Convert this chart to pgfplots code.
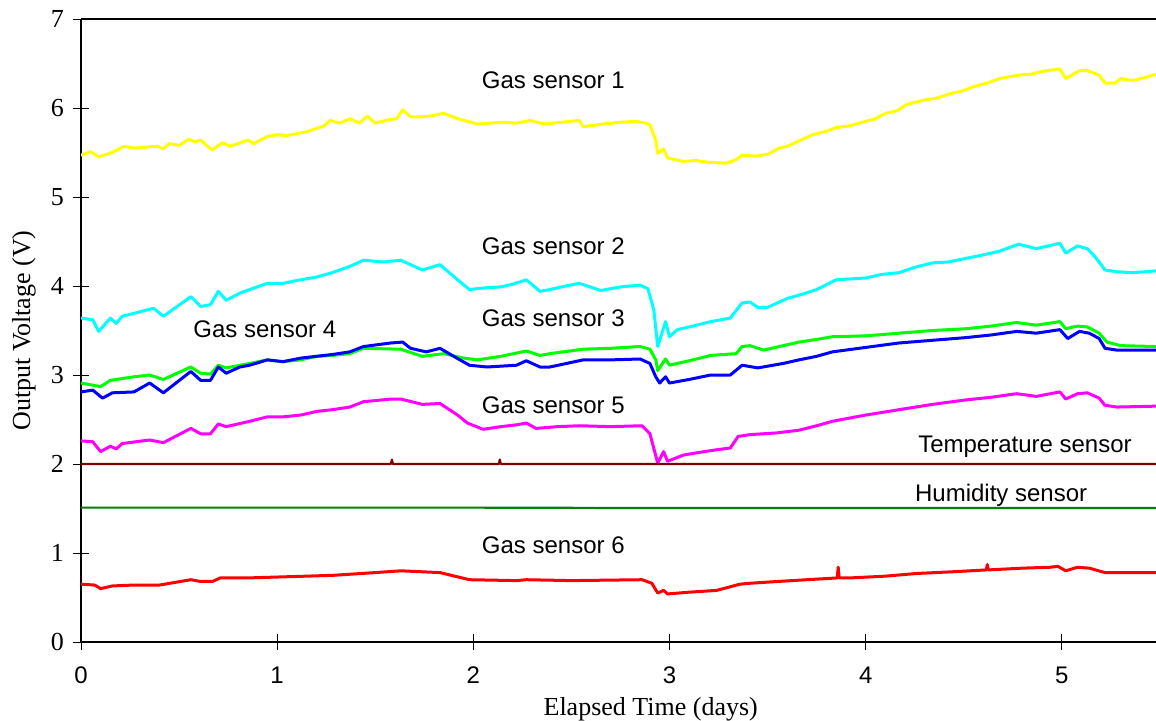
\documentclass[border=0pt]{standalone}
\usepackage{fontspec}
\setmainfont{Liberation Serif}
\setsansfont{Liberation Sans}
\usepackage{pgfplots}
\pgfplotsset{compat=1.18}
\definecolor{sOne}{RGB}{255,255,0}
\definecolor{sTwo}{RGB}{0,255,255}
\definecolor{sThree}{RGB}{0,255,0}
\definecolor{sFour}{RGB}{0,0,255}
\definecolor{sFive}{RGB}{255,0,255}
\definecolor{sSix}{RGB}{255,0,0}
\definecolor{temp}{RGB}{128,0,0}
\definecolor{hum}{RGB}{0,128,0}
\begin{document}
\begin{tikzpicture}
\begin{axis}[
  name=ax,
  scale only axis, width=537.5pt, height=311.5pt,
  xmin=0, xmax=5.48, ymin=0, ymax=7,
  axis x line*=box, axis y line*=left,
  xtick={0,1,2,3,4,5}, ytick={0,1,2,3,4,5,6,7},
  xtick pos=left,
  tick align=center, major tick length=8pt,
  tick style={black, line width=0.5pt},
  axis line style={black, line width=1pt},
  /pgf/number format/assume math mode=true,
  xticklabel style={font=\sffamily\fontsize{12}{12}\selectfont, yshift=-5pt},
  yticklabel style={font=\rmfamily\fontsize{13}{13}\selectfont, xshift=-1pt},
  xlabel={Elapsed Time (days)},
  ylabel={Output Voltage (V)},
  xlabel style={font=\rmfamily\fontsize{13}{13}\selectfont, at={(axis description cs:0.53,0)}, anchor=north, yshift=-24pt},
  ylabel style={font=\rmfamily\fontsize{13}{13}\selectfont, at={(axis description cs:-0.053,0.5)}, anchor=center},
  every axis plot/.append style={line join=round},
]
\addplot[sOne, line width=1.5pt] coordinates {
(0,5.47) (0.05,5.51) (0.09,5.45) (0.16,5.50) (0.22,5.57) (0.27,5.55) (0.33,5.56) (0.39,5.57) (0.42,5.54) (0.45,5.60) (0.50,5.58) (0.55,5.65) (0.58,5.62) (0.61,5.64) (0.64,5.58) (0.67,5.53) (0.72,5.61) (0.76,5.57) (0.80,5.60) (0.85,5.64) (0.88,5.60) (0.95,5.68) (1.00,5.70) (1.05,5.69) (1.12,5.72) (1.16,5.74) (1.20,5.77) (1.24,5.80) (1.27,5.86) (1.32,5.83) (1.37,5.88) (1.42,5.83) (1.46,5.91) (1.50,5.83) (1.57,5.87) (1.61,5.88) (1.64,5.98) (1.68,5.90) (1.73,5.90) (1.78,5.91) (1.85,5.94) (1.92,5.88) (1.97,5.85) (2.02,5.82) (2.08,5.83) (2.15,5.84) (2.22,5.83) (2.29,5.86) (2.36,5.82) (2.45,5.84) (2.54,5.86) (2.56,5.79) (2.66,5.82) (2.75,5.84) (2.83,5.85) (2.88,5.83) (2.90,5.81) (2.93,5.64) (2.94,5.49) (2.97,5.54) (2.99,5.44) (3.07,5.40) (3.13,5.41) (3.20,5.39) (3.29,5.38) (3.34,5.42) (3.37,5.47) (3.44,5.46) (3.50,5.48) (3.56,5.55) (3.60,5.57) (3.65,5.62) (3.73,5.70) (3.80,5.74) (3.85,5.78) (3.92,5.80) (4.00,5.85) (4.05,5.88) (4.10,5.94) (4.16,5.97) (4.21,6.04) (4.30,6.09) (4.36,6.11) (4.43,6.16) (4.49,6.19) (4.55,6.24) (4.62,6.28) (4.68,6.33) (4.78,6.37) (4.84,6.38) (4.90,6.41) (4.99,6.44) (5.02,6.33) (5.09,6.42) (5.13,6.42) (5.19,6.37) (5.22,6.28) (5.27,6.28) (5.30,6.33) (5.36,6.31) (5.42,6.34) (5.48,6.38)
};
\addplot[sTwo, line width=1.5pt] coordinates {
(0,3.64) (0.06,3.62) (0.09,3.49) (0.15,3.64) (0.18,3.58) (0.21,3.66) (0.30,3.71) (0.37,3.75) (0.42,3.66) (0.49,3.77) (0.56,3.88) (0.61,3.77) (0.66,3.79) (0.70,3.94) (0.74,3.84) (0.81,3.92) (0.86,3.96) (0.95,4.03) (1.03,4.03) (1.12,4.07) (1.20,4.10) (1.28,4.15) (1.37,4.22) (1.44,4.29) (1.54,4.27) (1.63,4.29) (1.74,4.18) (1.83,4.24) (1.92,4.07) (1.98,3.96) (2.06,3.98) (2.14,3.99) (2.20,4.02) (2.27,4.07) (2.34,3.94) (2.39,3.96) (2.47,4.00) (2.54,4.03) (2.65,3.95) (2.75,3.99) (2.85,4.01) (2.89,3.97) (2.92,3.73) (2.94,3.32) (2.98,3.60) (3.00,3.43) (3.04,3.51) (3.12,3.55) (3.21,3.60) (3.31,3.64) (3.37,3.81) (3.41,3.82) (3.45,3.76) (3.50,3.76) (3.60,3.86) (3.68,3.91) (3.75,3.96) (3.85,4.07) (4.00,4.09) (4.08,4.13) (4.17,4.15) (4.25,4.21) (4.34,4.26) (4.42,4.27) (4.51,4.31) (4.60,4.35) (4.68,4.39) (4.78,4.47) (4.87,4.42) (4.99,4.48) (5.02,4.37) (5.08,4.45) (5.13,4.42) (5.16,4.35) (5.19,4.27) (5.22,4.18) (5.28,4.16) (5.36,4.15) (5.48,4.17)
};
\addplot[sThree, line width=1.5pt] coordinates {
(0,2.91) (0.10,2.87) (0.15,2.94) (0.27,2.98) (0.35,3.00) (0.42,2.95) (0.49,3.02) (0.56,3.09) (0.61,3.02) (0.66,3.01) (0.70,3.11) (0.74,3.08) (0.86,3.13) (0.95,3.17) (1.03,3.15) (1.12,3.17) (1.20,3.21) (1.28,3.22) (1.37,3.24) (1.44,3.30) (1.63,3.29) (1.74,3.21) (1.85,3.24) (1.95,3.19) (2.02,3.17) (2.14,3.21) (2.27,3.27) (2.34,3.22) (2.39,3.24) (2.56,3.29) (2.70,3.30) (2.85,3.32) (2.90,3.29) (2.93,3.17) (2.94,3.05) (2.98,3.18) (3.00,3.11) (3.10,3.16) (3.21,3.22) (3.34,3.24) (3.37,3.32) (3.41,3.33) (3.48,3.28) (3.58,3.33) (3.66,3.37) (3.75,3.40) (3.83,3.43) (4.00,3.44) (4.17,3.47) (4.34,3.50) (4.51,3.52) (4.64,3.55) (4.77,3.59) (4.87,3.56) (4.99,3.60) (5.02,3.52) (5.08,3.55) (5.13,3.54) (5.19,3.47) (5.23,3.37) (5.30,3.33) (5.48,3.32)
};
\addplot[sFour, line width=1.5pt] coordinates {
(0,2.81) (0.06,2.83) (0.11,2.74) (0.16,2.80) (0.27,2.81) (0.35,2.91) (0.42,2.80) (0.49,2.92) (0.56,3.04) (0.61,2.94) (0.66,2.94) (0.70,3.09) (0.74,3.02) (0.81,3.09) (0.86,3.11) (0.95,3.17) (1.03,3.15) (1.12,3.19) (1.20,3.21) (1.28,3.23) (1.37,3.26) (1.44,3.32) (1.58,3.36) (1.64,3.37) (1.68,3.30) (1.76,3.26) (1.83,3.30) (1.90,3.21) (1.98,3.11) (2.07,3.09) (2.22,3.11) (2.27,3.16) (2.34,3.09) (2.39,3.09) (2.56,3.17) (2.70,3.17) (2.85,3.18) (2.90,3.13) (2.93,2.98) (2.95,2.91) (2.98,2.98) (3.00,2.91) (3.10,2.95) (3.21,3.00) (3.31,3.00) (3.37,3.11) (3.45,3.08) (3.58,3.13) (3.66,3.17) (3.75,3.21) (3.83,3.26) (4.00,3.31) (4.17,3.36) (4.34,3.39) (4.51,3.42) (4.64,3.45) (4.77,3.49) (4.87,3.47) (4.99,3.51) (5.03,3.41) (5.09,3.49) (5.14,3.47) (5.19,3.41) (5.22,3.30) (5.28,3.28) (5.48,3.28)
};
\addplot[sFive, line width=1.5pt] coordinates {
(0,2.26) (0.06,2.25) (0.10,2.14) (0.15,2.20) (0.18,2.17) (0.21,2.23) (0.35,2.27) (0.42,2.24) (0.49,2.32) (0.56,2.40) (0.61,2.34) (0.66,2.34) (0.70,2.45) (0.74,2.42) (0.86,2.48) (0.95,2.53) (1.03,2.53) (1.12,2.55) (1.20,2.59) (1.28,2.61) (1.37,2.64) (1.44,2.70) (1.58,2.73) (1.63,2.73) (1.74,2.67) (1.83,2.68) (1.92,2.55) (1.97,2.46) (2.05,2.39) (2.14,2.42) (2.22,2.44) (2.27,2.46) (2.32,2.40) (2.43,2.42) (2.54,2.43) (2.70,2.42) (2.86,2.43) (2.90,2.34) (2.94,2.01) (2.97,2.14) (2.99,2.03) (3.07,2.10) (3.15,2.13) (3.24,2.16) (3.31,2.18) (3.35,2.31) (3.41,2.33) (3.55,2.35) (3.66,2.38) (3.75,2.43) (3.83,2.48) (4.00,2.55) (4.17,2.61) (4.34,2.67) (4.51,2.72) (4.64,2.75) (4.77,2.79) (4.87,2.76) (4.99,2.81) (5.02,2.73) (5.08,2.79) (5.13,2.80) (5.19,2.74) (5.22,2.66) (5.28,2.64) (5.48,2.65)
};
\addplot[temp, line width=1.1pt] coordinates {
(0,2.0) (1.580,2.0) (1.585,2.05) (1.590,2.0) (2.130,2.0) (2.135,2.05) (2.140,2.0) (5.48,2.0)
};
\addplot[hum, line width=1.1pt] coordinates {
(0,1.51) (2.0,1.51) (3.0,1.505) (5.48,1.505)
};
\addplot[sSix, line width=1.5pt] coordinates {
(0,0.65) (0.07,0.64) (0.10,0.60) (0.16,0.63) (0.27,0.64) (0.40,0.64) (0.56,0.70) (0.61,0.68) (0.67,0.68) (0.71,0.72) (0.85,0.72) (1.00,0.73) (1.15,0.74) (1.29,0.75) (1.50,0.78) (1.63,0.80) (1.83,0.78) (1.98,0.70) (2.22,0.69) (2.27,0.70) (2.50,0.69) (2.86,0.70) (2.91,0.66) (2.94,0.55) (2.97,0.58) (2.99,0.54) (3.10,0.56) (3.24,0.58) (3.36,0.65) (3.41,0.66) (3.55,0.68) (3.70,0.70) (3.855,0.72) (3.86,0.84) (3.865,0.72) (3.92,0.72) (4.10,0.74) (4.26,0.77) (4.45,0.79) (4.615,0.81) (4.62,0.87) (4.625,0.81) (4.80,0.83) (4.94,0.84) (4.98,0.85) (5.02,0.80) (5.08,0.84) (5.14,0.83) (5.22,0.78) (5.48,0.78)
};
\begin{scope}[every node/.style={font=\sffamily\fontsize{12}{12}\selectfont, anchor=base west, inner sep=0pt}]
\node at (axis cs:2.042,6.22) {Gas sensor 1};
\node at (axis cs:2.042,4.35) {Gas sensor 2};
\node at (axis cs:2.042,3.54) {Gas sensor 3};
\node at (axis cs:0.571,3.42) {Gas sensor 4};
\node at (axis cs:2.042,2.57) {Gas sensor 5};
\node at (axis cs:4.266,2.13) {Temperature sensor};
\node at (axis cs:4.25,1.58) {Humidity sensor};
\node at (axis cs:2.042,1.00) {Gas sensor 6};
\end{scope}
\end{axis}
\pgfresetboundingbox
\path (ax.south west) +(-40.5pt,-39pt) rectangle +(537.5pt,321pt);
\end{tikzpicture}
\end{document}
